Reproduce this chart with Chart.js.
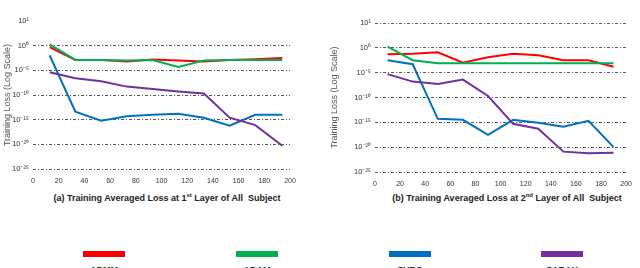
<!DOCTYPE html>
<html><head><meta charset="utf-8">
<script src="https://cdn.jsdelivr.net/npm/chart.js@4.4.1/dist/chart.umd.min.js"></script>
<style>
html,body{margin:0;padding:0;background:#fff;width:640px;height:268px;overflow:hidden;position:relative;font-family:"Liberation Sans",Arial,sans-serif;}
.box{position:absolute;top:0;width:320px;height:190px;}
.cap{position:absolute;top:192px;font-weight:bold;font-size:9px;color:#222;white-space:nowrap;transform:translateX(-50%);}
.cap sup{font-size:6px;}
.sw{position:absolute;top:251px;width:42px;height:6px;}
.lab{position:absolute;top:265px;font-size:9px;font-weight:bold;color:#222;transform:translateX(-50%);}
</style></head>
<body>
<div class="box" style="left:0"><canvas id="c1" width="320" height="190"></canvas></div>
<div class="box" style="left:320px"><canvas id="c2" width="320" height="190"></canvas></div>
<div class="cap" style="left:167px">(a) Training Averaged Loss at 1<sup>st</sup> Layer of All&nbsp; Subject</div>
<div class="cap" style="left:507px">(b) Training Averaged Loss at 2<sup>nd</sup> Layer of All&nbsp; Subject</div>
<div id="legend"></div>
<script>
// log10 of training loss
const seriesNames = ["ADMM", "ADAM", "SVRG", "SARAH"];
const seriesColors = ["#ff0000", "#00b050", "#0070c0", "#7030a0"];
const xTicks = [0, 20, 40, 60, 80, 100, 120, 140, 160, 180, 200];
const yTickExponents = [1, 0, -5, -10, -15, -20, -25];

const epochsA = [13, 33, 53, 73, 93, 113, 133, 153, 173, 194];
const admmA  = [-0.3, -2.9, -2.9, -3.2, -2.8, -3.0, -3.2, -2.9, -2.75, -2.5];
const adamA  = [0.05, -2.9, -2.9, -3.0, -2.9, -4.3, -3.0, -2.9, -2.9, -2.9];
const svrgA  = [-2.0, -13.4, -15.2, -14.3, -14.0, -13.8, -14.6, -16.2, -14.0, -14.0];
const sarahA = [-5.4, -6.6, -7.2, -8.3, -8.8, -9.3, -9.7, -14.6, -16.1, -20.3];

const epochsB = [10, 30, 50, 70, 90, 110, 130, 150, 170, 190];
const admmB  = [-1.3, -1.2, -0.9, -3.0, -1.9, -1.2, -1.5, -2.5, -2.5, -3.8];
const adamB  = [0.05, -2.5, -3.1, -3.1, -3.1, -3.1, -3.1, -3.1, -3.1, -3.1];
const svrgB  = [-2.5, -3.3, -14.3, -14.5, -17.5, -14.5, -15.1, -15.9, -14.7, -20.0];
const sarahB = [-5.3, -6.8, -7.3, -6.4, -9.7, -15.3, -16.3, -20.9, -21.2, -21.1];

// the axis places 10^1, 10^0, 10^-5 ... 10^-25 at equal spacing
function pos(e){ return e >= 0 ? e : e / 5; }
function expOf(p){ return p >= 0 ? p : p * 5; }
const supMap = {"0":"⁰","1":"¹","2":"²","3":"³","4":"⁴","5":"⁵","6":"⁶","7":"⁷","8":"⁸","9":"⁹","-":"⁻"};
function sup(n){ return String(n).split("").map(c => supMap[c]).join(""); }

function makeChart(id, epochs, series, yW, leftPad, rightPad, topPad, bottomArea, hideTopGrid){
  const ds = series.map((s, i) => ({
    label: seriesNames[i],
    data: s.map((e, j) => ({x: epochs[j], y: pos(e)})),
    borderColor: seriesColors[i],
    backgroundColor: seriesColors[i],
    borderWidth: 2,
    pointRadius: 0,
    tension: 0,
    fill: false
  })).reverse();
  new Chart(document.getElementById(id), {
    type: "line",
    data: {datasets: ds},
    options: {
      responsive: false,
      animation: false,
      layout: {padding: {left: leftPad, right: rightPad, top: topPad, bottom: 0}},
      plugins: {legend: {display: false}, tooltip: {enabled: false}},
      scales: {
        x: {
          type: "linear", min: 0, max: 200,
          afterBuildTicks: s => { s.ticks = xTicks.map(v => ({value: v})); },
          grid: {display: false, drawTicks: false},
          border: {display: false},
          ticks: {color: "#333", font: {family: "Liberation Sans", size: 7}, padding: 8, maxRotation: 0, autoSkip: false},
          afterFit: s => { s.height = bottomArea; }
        },
        y: {
          type: "linear", min: -5, max: 1,
          afterBuildTicks: s => { s.ticks = yTickExponents.map(e => ({value: pos(e)})); },
          grid: {
            drawTicks: false, lineWidth: 1,
            color: c => (hideTopGrid && c.tick && c.tick.value === 1) ? "rgba(0,0,0,0)" : "#555"
          },
          border: {display: false, dash: [3, 2, 1, 2]},
          ticks: {
            color: "#333", font: {family: "Liberation Sans", size: 7.5}, padding: 4,
            callback: v => "10" + sup(Math.round(expOf(v)))
          },
          title: {display: true, text: "Training Loss (Log Scale)", color: "#555",
                  font: {family: "Liberation Sans", size: 9}, padding: 0},
          afterFit: s => { s.width = yW; }
        }
      }
    }
  });
}

makeChart("c1", epochsA, [admmA, adamA, svrgA, sarahA], 31, 2, 30, 21, 21, true);
makeChart("c2", epochsB, [admmB, adamB, svrgB, sarahB], 46, 9, 10, 23, 18, false);

const leg = document.getElementById("legend");
const centers = [104, 257, 410, 562];
seriesNames.forEach((n, i) => {
  const s = document.createElement("div");
  s.className = "sw"; s.style.left = (centers[i] - 21) + "px"; s.style.background = seriesColors[i];
  leg.appendChild(s);
  const l = document.createElement("div");
  l.className = "lab"; l.style.left = centers[i] + "px"; l.textContent = n;
  leg.appendChild(l);
});
</script>
</body></html>
